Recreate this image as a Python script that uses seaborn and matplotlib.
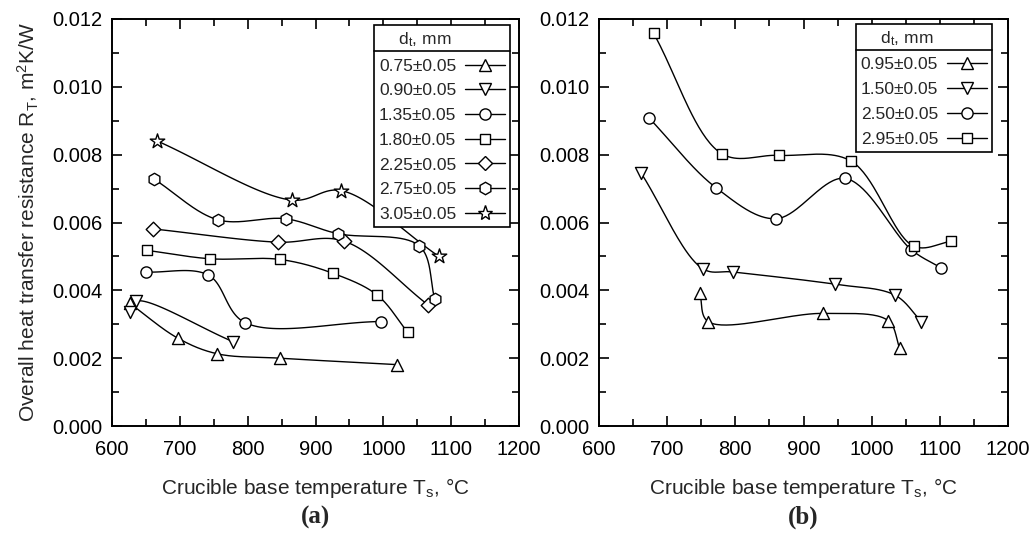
import numpy as np
import matplotlib
matplotlib.use('Agg')
import matplotlib.pyplot as plt
from matplotlib.lines import Line2D
from matplotlib.ticker import MultipleLocator, FormatStrFormatter
import seaborn as sns

# panel (a): crucible base temperature (°C) and R_T (m2K/W)
a_labels = ['0.75±0.05', '0.90±0.05', '1.35±0.05', '1.80±0.05',
            '2.25±0.05', '2.75±0.05', '3.05±0.05']
a_markers = ['^', 'v', 'o', 's', 'D', 'h', '*']
a_x = [
    [626, 697, 755, 847, 1020],
    [627, 636, 778],
    [650, 742, 796, 996],
    [651, 745, 848, 926, 991, 1036],
    [661, 844, 942, 1066],
    [662, 756, 856, 933, 1053, 1076],
    [667, 865, 938, 1082],
]
a_y = [
    [0.00362, 0.00259, 0.00213, 0.00200, 0.00181],
    [0.00335, 0.00368, 0.00249],
    [0.00454, 0.00445, 0.00305, 0.00308],
    [0.00518, 0.00493, 0.00491, 0.00450, 0.00386, 0.00276],
    [0.00581, 0.00542, 0.00545, 0.00357],
    [0.00728, 0.00608, 0.00611, 0.00567, 0.00531, 0.00373],
    [0.00840, 0.00666, 0.00694, 0.00500],
]

# panel (b)
b_labels = ['0.95±0.05', '1.50±0.05', '2.50±0.05', '2.95±0.05']
b_markers = ['^', 'v', 'o', 's']
b_x = [
    [748, 760, 929, 1024, 1041],
    [662, 752, 797, 946, 1034, 1073],
    [673, 772, 859, 961, 1058, 1101],
    [680, 780, 864, 969, 1062, 1117],
]
b_y = [
    [0.00391, 0.00308, 0.00332, 0.00311, 0.00230],
    [0.00745, 0.00464, 0.00454, 0.00418, 0.00386, 0.00308],
    [0.00909, 0.00702, 0.00611, 0.00730, 0.00520, 0.00467],
    [0.01158, 0.00803, 0.00798, 0.00782, 0.00530, 0.00545],
]

marker_size = {'^': 75, 'v': 75, 'o': 65, 's': 60, 'D': 55, 'h': 80, '*': 120}


def smooth(xs, ys, n=40):
    # centripetal catmull-rom through the points, done in axis-normalised units
    p = np.column_stack([(np.asarray(xs, float) - 600) / 600,
                         np.asarray(ys, float) / 0.012])
    if len(p) < 3:
        return np.asarray(xs, float), np.asarray(ys, float)
    ext = np.vstack([2 * p[0] - p[1], p, 2 * p[-1] - p[-2]])
    out = []
    for i in range(1, len(ext) - 2):
        p0, p1, p2, p3 = ext[i - 1:i + 3]
        t0 = 0.0
        t1 = t0 + np.linalg.norm(p1 - p0) ** 0.5
        t2 = t1 + np.linalg.norm(p2 - p1) ** 0.5
        t3 = t2 + np.linalg.norm(p3 - p2) ** 0.5
        t = np.linspace(t1, t2, n)[:, None]
        a1 = (t1 - t) / (t1 - t0) * p0 + (t - t0) / (t1 - t0) * p1
        a2 = (t2 - t) / (t2 - t1) * p1 + (t - t1) / (t2 - t1) * p2
        a3 = (t3 - t) / (t3 - t2) * p2 + (t - t2) / (t3 - t2) * p3
        b1 = (t2 - t) / (t2 - t0) * a1 + (t - t0) / (t2 - t0) * a2
        b2 = (t3 - t) / (t3 - t1) * a2 + (t - t1) / (t3 - t1) * a3
        c = (t2 - t) / (t2 - t1) * b1 + (t - t1) / (t2 - t1) * b2
        out.append(c if i == 1 else c[1:])
    c = np.vstack(out)
    return c[:, 0] * 600 + 600, c[:, 1] * 0.012


sns.set_style('ticks')
plt.rcParams['font.family'] = ['Liberation Sans', 'DejaVu Sans']
plt.rcParams['mathtext.fontset'] = 'custom'
plt.rcParams['mathtext.rm'] = 'Liberation Sans'
plt.rcParams['mathtext.it'] = 'Liberation Sans'

fig = plt.figure(figsize=(10.34, 5.33), dpi=100)
ax_a = fig.add_axes([112 / 1034, 1 - 426 / 533, 407 / 1034, 407 / 533])
ax_b = fig.add_axes([599 / 1034, 1 - 426 / 533, 409 / 1034, 407 / 533])


def draw_panel(ax, xs_list, ys_list, labels, markers, leg_anchor):
    handles = []
    for xs, ys, lab, m in zip(xs_list, ys_list, labels, markers):
        sx, sy = smooth(xs, ys)
        sns.lineplot(x=sx, y=sy, sort=False, estimator=None, color='black',
                     linewidth=1.0, ax=ax, zorder=2)
        sns.scatterplot(x=xs, y=ys, marker=m, s=marker_size[m], color='white',
                        edgecolor='black', linewidth=1.0, ax=ax, zorder=3)
        handles.append(Line2D([], [], color='black', lw=1.0, marker=m,
                              markerfacecolor='white', markeredgecolor='black',
                              markersize=np.sqrt(marker_size[m])))
    ax.set_xlim(600, 1200)
    ax.set_ylim(0, 0.012)
    ax.xaxis.set_major_locator(MultipleLocator(100))
    ax.xaxis.set_minor_locator(MultipleLocator(50))
    ax.yaxis.set_major_locator(MultipleLocator(0.002))
    ax.yaxis.set_minor_locator(MultipleLocator(0.001))
    ax.yaxis.set_major_formatter(FormatStrFormatter('%.3f'))
    ax.tick_params(which='both', direction='in', top=True, right=True,
                   width=1.2, labelsize=14.5, colors='black')
    ax.tick_params(which='major', length=7)
    ax.tick_params(which='minor', length=5)
    ax.tick_params(axis='x', pad=10)
    ax.tick_params(axis='y', pad=7)
    for sp in ax.spines.values():
        sp.set_linewidth(1.4)
        sp.set_color('black')
    ax.set_xlabel('Crucible base temperature T$_\\mathregular{s}$, °C',
                  fontsize=15, labelpad=12)
    leg = ax.legend(handles, labels, title='    d$_\\mathregular{t}$, mm',
                    loc='upper right', bbox_to_anchor=leg_anchor,
                    borderaxespad=0, markerfirst=False, frameon=True,
                    fancybox=False, edgecolor='black', framealpha=1,
                    fontsize=12.5, title_fontsize=12.5, handlelength=2.3,
                    labelspacing=0.55, borderpad=0.3, handletextpad=0.5)
    leg._legend_box.align = 'left'
    leg.get_frame().set_linewidth(1.2)
    return leg


leg_a = draw_panel(ax_a, a_x, a_y, a_labels, a_markers, (0.978, 0.985))
leg_b = draw_panel(ax_b, b_x, b_y, b_labels, b_markers, (0.961, 0.988))

ax_a.set_ylabel('Overall heat transfer resistance R$_\\mathregular{T}$, m$^\\mathregular{2}$K/W',
                fontsize=15, labelpad=8)
ax_b.set_ylabel('')

fig.text((112 + 519) / 2 / 1034, 1 - 517 / 533, '(a)', ha='center', va='center',
         fontsize=18, fontweight='bold', family='Liberation Serif')
fig.text((599 + 1008) / 2 / 1034, 1 - 517 / 533, '(b)', ha='center', va='center',
         fontsize=18, fontweight='bold', family='Liberation Serif')

# line under the legend title
fig.canvas.draw()
r = fig.canvas.get_renderer()
W, H = fig.bbox.width, fig.bbox.height
for leg in (leg_a, leg_b):
    fr = leg.get_frame().get_window_extent(r)
    tt = leg.get_title().get_window_extent(r)
    yy = (tt.y0 - 2) / H
    fig.add_artist(Line2D([fr.x0 / W, fr.x1 / W], [yy, yy], transform=fig.transFigure,
                          color='black', lw=1.2))

fig.savefig('out.png', dpi=100)
